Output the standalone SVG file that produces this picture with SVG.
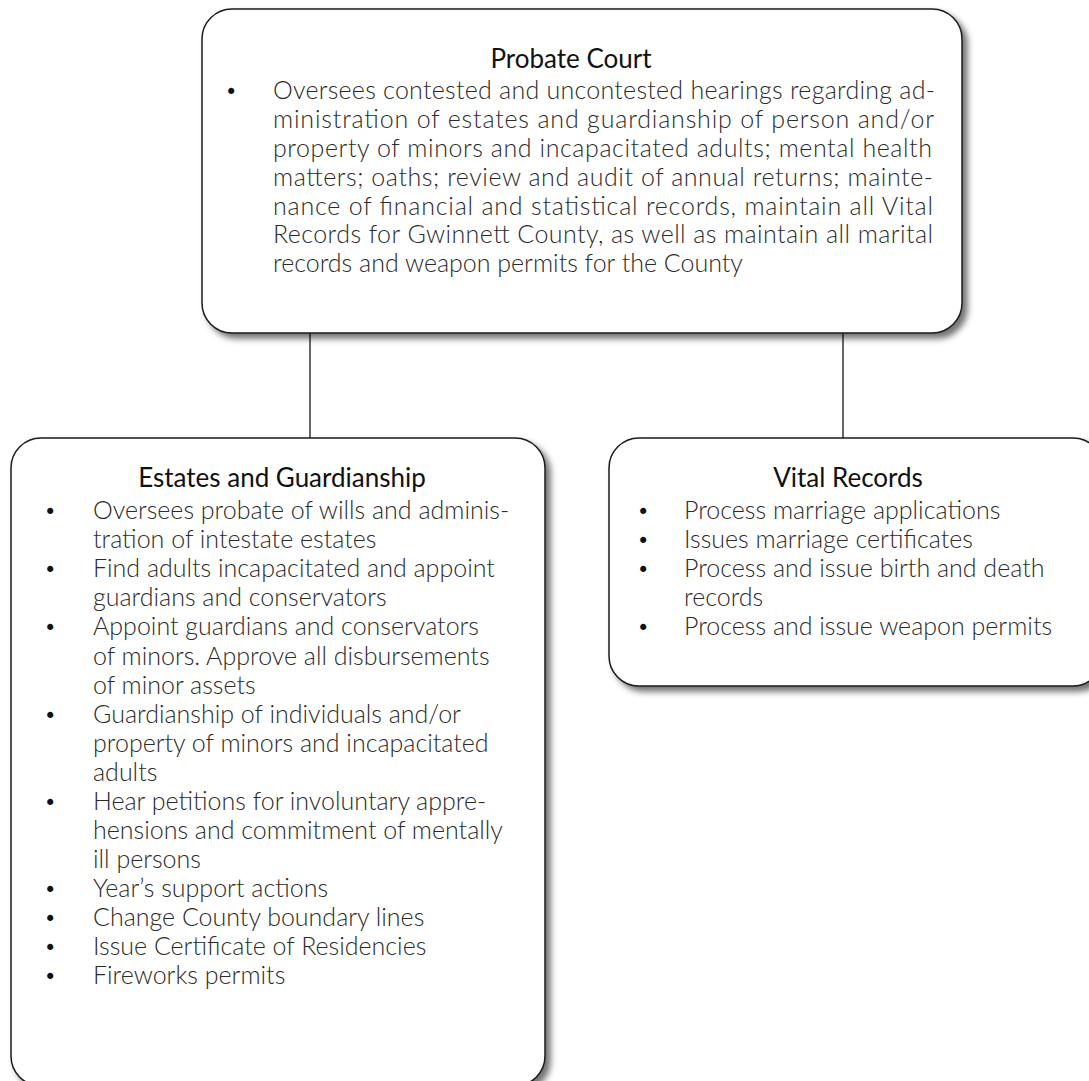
<svg xmlns="http://www.w3.org/2000/svg" width="1089" height="1081" viewBox="0 0 1089 1081">
  <style>
    .box { fill: #ffffff; stroke: #1a1a1a; stroke-width: 1.5; filter: url(#shadow); }
    .title { font-family: Lato, "Open Sans", sans-serif; font-size: 26px; font-weight: 400; fill: #111111; text-anchor: middle; }
    .body { font-family: Lato, "Open Sans", sans-serif; font-size: 25px; font-weight: 300; fill: #2b2b2b; }
    .bullet { font-family: "DejaVu Sans", sans-serif; font-size: 21px; fill: #111111; }
    .link { stroke: #000000; stroke-width: 1.2; fill: none; }
  </style>
  <defs>
    <filter id="shadow" x="-10%" y="-10%" width="125%" height="125%">
      <feDropShadow dx="5" dy="5" stdDeviation="3" flood-color="#000000" flood-opacity="0.55"/>
    </filter>
  </defs>
  <rect width="1089" height="1081" fill="#ffffff"/>

  <!-- connectors -->
  <g id="connectors">
    <line class="link" x1="310" y1="333" x2="310" y2="438"/>
    <line class="link" x1="843" y1="333" x2="843" y2="438"/>
  </g>

  <!-- top node -->
  <g id="probate-court">
    <rect class="box" x="202" y="9" width="760" height="324" rx="30" ry="30"/>
    <text class="title" x="571" y="68">Probate Court</text>
    <text class="bullet" x="225" y="99">•</text>
    <text class="body" x="273" y="99" textLength="662" lengthAdjust="spacing">Oversees contested and uncontested hearings regarding ad-</text>
    <text class="body" x="273" y="128" textLength="661" lengthAdjust="spacing">ministration of estates and guardianship of person and/or</text>
    <text class="body" x="273" y="157" textLength="659" lengthAdjust="spacing">property of minors and incapacitated adults; mental health</text>
    <text class="body" x="273" y="186" textLength="660" lengthAdjust="spacing">matters; oaths; review and audit of annual returns; mainte-</text>
    <text class="body" x="273" y="215" textLength="660" lengthAdjust="spacing">nance of financial and statistical records, maintain all Vital</text>
    <text class="body" x="273" y="243" textLength="660" lengthAdjust="spacing">Records for Gwinnett County, as well as maintain all marital</text>
    <text class="body" x="273" y="272">records and weapon permits for the County</text>
  </g>

  <!-- left node -->
  <g id="estates-guardianship">
    <rect class="box" x="11" y="438" width="534" height="648" rx="30" ry="30"/>
    <text class="title" x="282" y="487">Estates and Guardianship</text>
    <g class="bullet">
      <text x="44" y="519">•</text>
      <text x="44" y="577">•</text>
      <text x="44" y="635">•</text>
      <text x="44" y="723">•</text>
      <text x="44" y="810">•</text>
      <text x="44" y="897">•</text>
      <text x="44" y="926">•</text>
      <text x="44" y="955">•</text>
      <text x="44" y="984">•</text>
    </g>
    <text class="body" x="93" y="519">Oversees probate of wills and adminis-</text>
    <text class="body" x="93" y="548">tration of intestate estates</text>
    <text class="body" x="93" y="577">Find adults incapacitated and appoint</text>
    <text class="body" x="93" y="606">guardians and conservators</text>
    <text class="body" x="93" y="635">Appoint guardians and conservators</text>
    <text class="body" x="93" y="665">of minors. Approve all disbursements</text>
    <text class="body" x="93" y="694">of minor assets</text>
    <text class="body" x="93" y="723">Guardianship of individuals and/or</text>
    <text class="body" x="93" y="752">property of minors and incapacitated</text>
    <text class="body" x="93" y="781">adults</text>
    <text class="body" x="93" y="810">Hear petitions for involuntary appre-</text>
    <text class="body" x="93" y="839">hensions and commitment of mentally</text>
    <text class="body" x="93" y="868">ill persons</text>
    <text class="body" x="93" y="897">Year’s support actions</text>
    <text class="body" x="93" y="926">Change County boundary lines</text>
    <text class="body" x="93" y="955">Issue Certificate of Residencies</text>
    <text class="body" x="93" y="984">Fireworks permits</text>
  </g>

  <!-- right node -->
  <g id="vital-records">
    <rect class="box" x="609" y="438" width="494" height="248" rx="30" ry="30"/>
    <text class="title" x="848" y="487">Vital Records</text>
    <g class="bullet">
      <text x="637" y="519">•</text>
      <text x="637" y="548">•</text>
      <text x="637" y="577">•</text>
      <text x="637" y="635">•</text>
    </g>
    <text class="body" x="684" y="519">Process marriage applications</text>
    <text class="body" x="684" y="548">Issues marriage certificates</text>
    <text class="body" x="684" y="577">Process and issue birth and death</text>
    <text class="body" x="684" y="606">records</text>
    <text class="body" x="684" y="635">Process and issue weapon permits</text>
  </g>
</svg>
